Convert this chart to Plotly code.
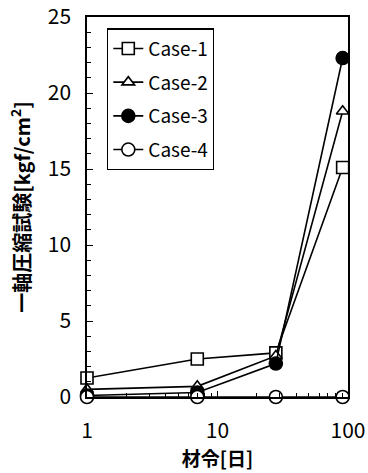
import plotly.graph_objects as go

days = [1, 7, 28, 91]
case1 = [1.25, 2.5, 2.9, 15.1]
case2 = [0.5, 0.7, 2.7, 18.8]
case3 = [0.1, 0.3, 2.2, 22.3]
case4 = [0.0, 0.0, 0.0, 0.0]

names = ["Case-1", "Case-2", "Case-3", "Case-4"]
series = [case1, case2, case3, case4]
symbols = ["square", "triangle-up", "circle", "circle"]
fills = ["white", "white", "black", "white"]
sizes = [12, 11, 13, 13]

FONT = "Liberation Sans Narrow, Noto Sans CJK JP, sans-serif"
JFONT = "Noto Sans CJK JP"

fig = go.Figure()
for i, (n, s) in enumerate(zip(names, series)):
    fig.add_trace(go.Scatter(
        x=days, y=s, name=n, mode="lines+markers",
        line=dict(color="black", width=1.6),
        marker=dict(symbol=symbols[i], size=sizes[i], color=fills[i],
                    line=dict(color="black", width=1.6)),
        cliponaxis=False, legendgroup=n,
    ))

fig.update_layout(
    width=368, height=473,
    margin=dict(l=87, r=20, t=17, b=76),
    paper_bgcolor="white", plot_bgcolor="white",
    font=dict(family=FONT, color="black", size=18),
    showlegend=True,
    legend=dict(
        x=0.077, y=0.97, xanchor="left", yanchor="top",
        bgcolor="white", bordercolor="black", borderwidth=1.2,
        font=dict(family=FONT, size=19, color="black"),
        tracegroupgap=6, traceorder="grouped",
    ),
    xaxis=dict(
        type="log", range=[0, 2], automargin=False,
        tickvals=[1, 10, 100], ticktext=["1", "10", "100"],
        ticks="inside", ticklen=6, tickcolor="black",
        minor=dict(ticks="inside", ticklen=4, tickcolor="black",
                   tickvals=[2, 3, 4, 5, 6, 7, 8, 9, 20, 30, 40, 50, 60, 70, 80, 90]),
        showline=True, linecolor="black", linewidth=1.5, mirror=True,
        showgrid=False, zeroline=False,
        tickfont=dict(size=21, family=FONT),
        ticklabelstandoff=14,
        title=dict(text="材令[日]", font=dict(size=19, family=JFONT, weight="bold"), standoff=6),
    ),
    yaxis=dict(
        range=[0, 25], dtick=5, automargin=False,
        ticks="inside", ticklen=6, tickcolor="black",
        minor=dict(ticks="inside", ticklen=4, dtick=1, tickcolor="black"),
        showline=True, linecolor="black", linewidth=1.5, mirror=True,
        showgrid=False, zeroline=False,
        tickfont=dict(size=21, family=FONT),
        ticklabelstandoff=10,
        title=dict(text="一軸圧縮試験[kgf/cm<sup>2</sup>]", font=dict(size=20, family=JFONT, weight="bold"), standoff=12),
    ),
)

fig.write_html("out.html", config={"displayModeBar": False},
               post_script="document.body.style.margin='0';document.body.style.padding='0';")
